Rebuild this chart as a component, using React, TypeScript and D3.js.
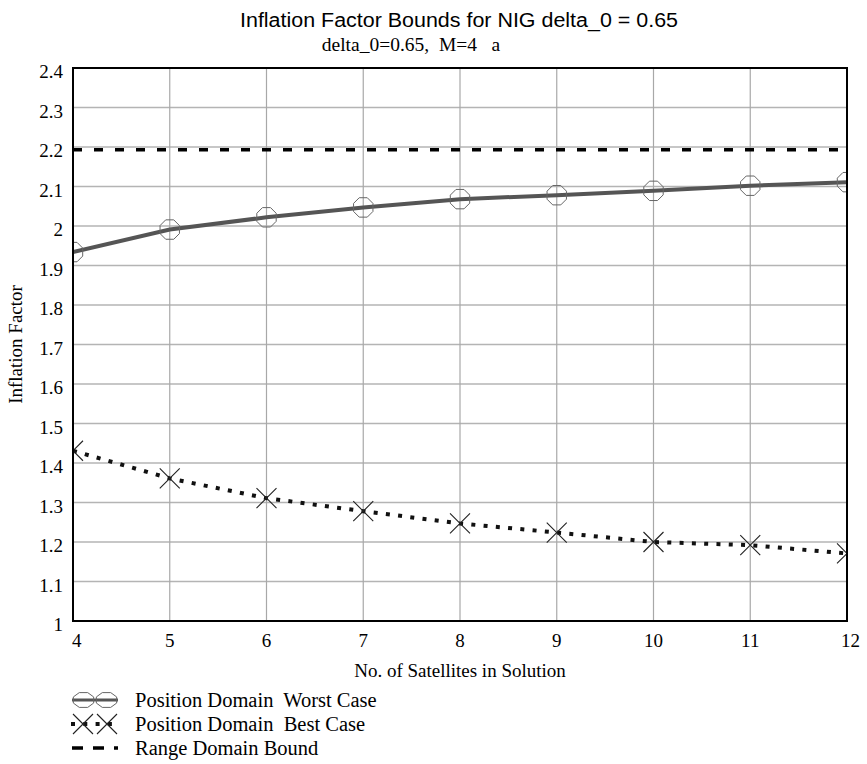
import React from "react";
import * as d3 from "d3";

// Number of satellites in the solution
const satellites = [4, 5, 6, 7, 8, 9, 10, 11, 12];
// Position-domain inflation factor, worst case
const worstCase = [1.934, 1.991, 2.022, 2.047, 2.068, 2.078, 2.089, 2.102, 2.111];
// Position-domain inflation factor, best case
const bestCase = [1.431, 1.361, 1.311, 1.278, 1.247, 1.224, 1.2, 1.192, 1.171];
// Range-domain bound (constant)
const rangeBound = 2.193;

const yTicks = [1, 1.1, 1.2, 1.3, 1.4, 1.5, 1.6, 1.7, 1.8, 1.9, 2, 2.1, 2.2, 2.3, 2.4];
const xTicks = [4, 5, 6, 7, 8, 9, 10, 11, 12];

const legendLabels = [
  "Position Domain  Worst Case",
  "Position Domain  Best Case",
  "Range Domain Bound",
];

const W = 867;
const H = 764;
const plot = { left: 73, right: 847, top: 68, bottom: 621 };

const serif = "'Liberation Serif', 'Times New Roman', Times, serif";
const sans = "'Liberation Sans', Arial, Helvetica, sans-serif";

function octagonPath(cx: number, cy: number, rx: number, ry: number) {
  const pts: [number, number][] = [];
  for (let i = 0; i < 8; i++) {
    const a = Math.PI / 8 + (i * Math.PI) / 4;
    pts.push([cx + rx * Math.cos(a), cy + ry * Math.sin(a)]);
  }
  return "M" + pts.map((p) => p.join(",")).join("L") + "Z";
}

function xMarkPath(cx: number, cy: number, r: number) {
  return `M${cx - r},${cy - r}L${cx + r},${cy + r}M${cx - r},${cy + r}L${cx + r},${cy - r}`;
}

export default function App() {
  const x = d3.scaleLinear().domain([4, 12]).range([plot.left, plot.right]);
  const y = d3.scaleLinear().domain([1, 2.4]).range([plot.bottom, plot.top]);

  const line = d3
    .line<number>()
    .x((_, i) => x(satellites[i]))
    .y((d) => y(d));

  const worstColor = "#555555";
  const serifStyle = { fontFamily: serif, whiteSpace: "pre" as const };

  return (
    <svg width={W} height={H} style={{ display: "block", position: "absolute", left: 0, top: 0 }}>
      <rect width={W} height={H} fill="#ffffff" />
      <defs>
        <clipPath id="plotClip">
          <rect x={plot.left} y={plot.top} width={plot.right - plot.left} height={plot.bottom - plot.top} />
        </clipPath>
      </defs>

      {/* titles */}
      <text
        x={240}
        y={27}
        style={{ fontFamily: sans }}
        fontSize={19.5}
        textLength={438}
        lengthAdjust="spacingAndGlyphs"
        fill="#000"
      >
        Inflation Factor Bounds for NIG delta_0 = 0.65
      </text>
      <text x={411} y={51} textAnchor="middle" style={serifStyle} fontSize={19.5} fill="#000">
        {"delta_0=0.65,  M=4   a"}
      </text>

      {/* grid */}
      {yTicks.map((t) => (
        <line key={"gy" + t} x1={plot.left} x2={plot.right} y1={y(t)} y2={y(t)} stroke="#b4b4b4" strokeWidth={1.5} />
      ))}
      {xTicks.map((t) => (
        <line key={"gx" + t} x1={x(t)} x2={x(t)} y1={plot.top} y2={plot.bottom} stroke="#a8a8a8" strokeWidth={1.2} />
      ))}

      {/* series */}
      <g clipPath="url(#plotClip)">
        <line
          x1={plot.left}
          x2={plot.right}
          y1={y(rangeBound)}
          y2={y(rangeBound)}
          stroke="#000"
          strokeWidth={3.5}
          strokeDasharray="9 12"
        />
        <path d={line(worstCase) || ""} fill="none" stroke={worstColor} strokeWidth={4} />
        {worstCase.map((v, i) => (
          <path
            key={"w" + i}
            d={octagonPath(x(satellites[i]), y(v), 10.5, 10.5)}
            fill="none"
            stroke="#666"
            strokeWidth={1}
          />
        ))}
        <path
          d={line(bestCase) || ""}
          fill="none"
          stroke="#111"
          strokeWidth={4}
          strokeDasharray="4 8.3"
        />
        {bestCase.map((v, i) => (
          <path key={"b" + i} d={xMarkPath(x(satellites[i]), y(v), 10)} fill="none" stroke="#222" strokeWidth={1.1} />
        ))}
      </g>

      {/* frame */}
      <rect
        x={plot.left}
        y={plot.top}
        width={plot.right - plot.left}
        height={plot.bottom - plot.top}
        fill="none"
        stroke="#000"
        strokeWidth={2}
      />

      {/* y tick labels */}
      {yTicks.map((t) => (
        <text key={"ty" + t} x={63} y={y(t) + 10} textAnchor="end" style={serifStyle} fontSize={19} fill="#000">
          {d3.format("~g")(t)}
        </text>
      ))}

      {/* x tick labels */}
      {xTicks.map((t, i) => (
        <text
          key={"tx" + t}
          x={i === 0 ? x(t) - 1 : i === xTicks.length - 1 ? x(t) + 13 : x(t)}
          y={plot.bottom + 26}
          textAnchor={i === 0 ? "start" : i === xTicks.length - 1 ? "end" : "middle"}
          style={serifStyle}
          fontSize={19}
          fill="#000"
        >
          {t}
        </text>
      ))}

      {/* axis titles */}
      <text x={460} y={677} textAnchor="middle" style={serifStyle} fontSize={19} fill="#000">
        No. of Satellites in Solution
      </text>
      <text
        transform={`translate(22, ${(plot.top + plot.bottom) / 2}) rotate(-90)`}
        textAnchor="middle"
        style={serifStyle}
        fontSize={19}
        fill="#000"
      >
        Inflation Factor
      </text>

      {/* legend */}
      <g>
        <line x1={72} x2={118} y1={700} y2={700} stroke={worstColor} strokeWidth={3} />
        <path d={octagonPath(83.5, 700, 11, 8)} fill="none" stroke="#666" strokeWidth={1} />
        <path d={octagonPath(106.5, 700, 11, 8)} fill="none" stroke="#666" strokeWidth={1} />
        <text x={135} y={707} style={serifStyle} fontSize={20.5} fill="#000">
          {legendLabels[0]}
        </text>

        <line x1={71} x2={118} y1={724} y2={724} stroke="#111" strokeWidth={4} strokeDasharray="4 8.3" />
        <path d={xMarkPath(83, 724, 10)} fill="none" stroke="#222" strokeWidth={1.1} />
        <path d={xMarkPath(107, 724, 10)} fill="none" stroke="#222" strokeWidth={1.1} />
        <text x={135} y={731} style={serifStyle} fontSize={20.5} fill="#000">
          {legendLabels[1]}
        </text>

        <line x1={72} x2={118} y1={748} y2={748} stroke="#000" strokeWidth={3.5} strokeDasharray="11 10" />
        <text x={135} y={755} style={serifStyle} fontSize={20.5} fill="#000">
          {legendLabels[2]}
        </text>
      </g>
    </svg>
  );
}
